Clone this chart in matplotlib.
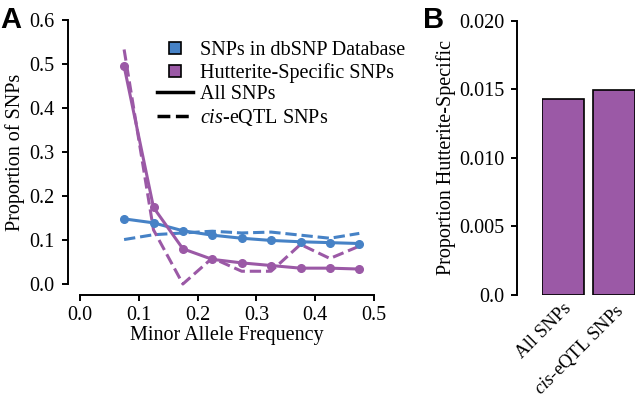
import matplotlib
matplotlib.use("Agg")
import matplotlib.pyplot as plt
from matplotlib.lines import Line2D
import matplotlib.transforms as mtransforms
import numpy as np

plt.rcParams['font.family'] = ['Liberation Serif', 'DejaVu Serif']
plt.rcParams['mathtext.fontset'] = 'custom'
plt.rcParams['mathtext.rm'] = 'Liberation Serif'
plt.rcParams['mathtext.it'] = 'Liberation Serif:italic'

# --- data ---
maf = [0.075, 0.125, 0.175, 0.225, 0.275, 0.325, 0.375, 0.425, 0.475]
dbsnp_all = [0.148, 0.139, 0.121, 0.111, 0.104, 0.099, 0.096, 0.094, 0.092]
dbsnp_eqtl = [0.101, 0.112, 0.116, 0.120, 0.116, 0.118, 0.111, 0.104, 0.115]
hutt_all = [0.495, 0.174, 0.080, 0.056, 0.048, 0.042, 0.036, 0.036, 0.034]
hutt_eqtl = [0.533, 0.123, 0.000, 0.059, 0.029, 0.029, 0.090, 0.058, 0.086]

bar_labels = ["All SNPs", r"$\it{cis}$-eQTL SNPs"]
bar_values = [0.01428, 0.01496]

blue = "#4682c6"
purple = "#9b59a6"
fs = 14.5
px = 0.72  # points per pixel at dpi 100

fig = plt.figure(figsize=(6.38, 4.0), dpi=100)

# --- panel A ---
axA = fig.add_axes([80 / 638, 116 / 400, 294 / 638, 264 / 400])
axA.plot(maf, dbsnp_eqtl, color=blue, lw=2.2, ls='--', clip_on=False)
axA.plot(maf, hutt_eqtl, color=purple, lw=2.2, ls='--', clip_on=False)
axA.plot(maf, dbsnp_all, color=blue, lw=2.2, marker='o', ms=5.5, clip_on=False)
axA.plot(maf, hutt_all, color=purple, lw=2.2, marker='o', ms=5.5, clip_on=False)
axA.set_xlim(0, 0.5)
axA.set_ylim(0, 0.6)
axA.set_xticks(np.arange(0, 0.51, 0.1))
axA.set_yticks(np.arange(0, 0.61, 0.1))
axA.set_xticklabels([f"{v:.1f}" for v in np.arange(0, 0.51, 0.1)])
axA.set_yticklabels([f"{v:.1f}" for v in np.arange(0, 0.61, 0.1)])
for s in ['top', 'right']:
    axA.spines[s].set_visible(False)
axA.spines['left'].set_position(('outward', 12 * px))
axA.spines['bottom'].set_position(('outward', 10.7 * px))
for s in ['left', 'bottom']:
    axA.spines[s].set_linewidth(1.4)
axA.tick_params(width=1.4, length=4.3, labelsize=fs)
axA.tick_params(axis='y', pad=5.5)
axA.tick_params(axis='x', pad=3.5)
axA.set_xlabel("Minor Allele Frequency", fontsize=fs, labelpad=1)
axA.set_ylabel("Proportion of SNPs", fontsize=fs, labelpad=3)

handles = [
    Line2D([], [], ls='none', marker='s', ms=9, mfc=blue, mec='black', mew=1.2),
    Line2D([], [], ls='none', marker='s', ms=9, mfc=purple, mec='black', mew=1.2),
    Line2D([], [], color='black', lw=2.5),
    Line2D([], [], color='black', lw=2.5, ls='--'),
]
labels = ["SNPs in dbSNP Database", "Hutterite-Specific SNPs",
          "All SNPs", r"$\it{cis}$-eQTL SNPs"]
axA.legend(handles, labels, loc='upper left', bbox_to_anchor=(0.235, 0.95),
           frameon=False, fontsize=fs, handlelength=1.8, handletextpad=0.35,
           labelspacing=0.12, borderaxespad=0)

fig.text(0.0, 0.985, "A", fontsize=21, fontweight='bold',
         family='Liberation Sans', va='top', ha='left')

# --- panel B ---
axB = fig.add_axes([541.7 / 638, 105.3 / 400, 93.5 / 638, 274 / 400])
xpos = [0.7, 1.9]
axB.bar(xpos, bar_values, width=1.0, color=purple, edgecolor='black', linewidth=1.2)
axB.set_xlim(0.2, 2.4)
axB.set_ylim(0, 0.02)
axB.set_yticks([0, 0.005, 0.01, 0.015, 0.02])
axB.set_yticklabels(["0.0", "0.005", "0.010", "0.015", "0.020"])
axB.set_xticks(xpos)
axB.set_xticklabels(bar_labels, rotation=45, ha='right', rotation_mode='anchor', fontsize=13.5)
shift = mtransforms.ScaledTranslation(5 / 100, 0, fig.dpi_scale_trans)
for lbl in axB.get_xticklabels():
    lbl.set_transform(lbl.get_transform() + shift)
axB.tick_params(axis='x', length=0, pad=4)
for s in ['top', 'right', 'bottom']:
    axB.spines[s].set_visible(False)
axB.spines['left'].set_position(('outward', 24.7 * px))
axB.spines['left'].set_linewidth(1.4)
axB.tick_params(axis='y', width=1.4, length=4.3, labelsize=fs, pad=5)
axB.set_ylabel("Proportion Hutterite-Specific", fontsize=fs, labelpad=2)

fig.text(423 / 638, 0.985, "B", fontsize=21, fontweight='bold',
         family='Liberation Sans', va='top', ha='left')

fig.savefig("out.png", dpi=100)
